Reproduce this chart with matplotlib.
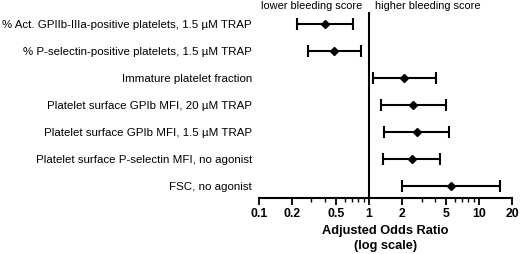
import numpy as np
import matplotlib
matplotlib.use("Agg")
import matplotlib.pyplot as plt
from matplotlib.ticker import FixedLocator, NullFormatter

labels = [
    "% Act. GPIIb-IIIa-positive platelets, 1.5 \u00b5M TRAP",
    "% P-selectin-positive platelets, 1.5 \u00b5M TRAP",
    "Immature platelet fraction",
    "Platelet surface GPIb MFI, 20 \u00b5M TRAP",
    "Platelet surface GPIb MFI, 1.5 \u00b5M TRAP",
    "Platelet surface P-selectin MFI, no agonist",
    "FSC, no agonist",
]
odds = [0.40, 0.48, 2.08, 2.53, 2.71, 2.44, 5.53]
ci_low = [0.223, 0.28, 1.09, 1.29, 1.38, 1.35, 2.01]
ci_high = [0.71, 0.84, 4.04, 4.98, 5.37, 4.42, 15.4]
xticks = [0.1, 0.2, 0.5, 1, 2, 5, 10, 20]
xticklabels = ["0.1", "0.2", "0.5", "1", "2", "5", "10", "20"]

plt.rcParams["font.family"] = ["Liberation Sans", "DejaVu Sans"]

fig = plt.figure(figsize=(5.2, 2.54), dpi=100)
ax = fig.add_axes([0.498, 0.2205, 0.487, 0.7325])

y = np.arange(1, len(labels) + 1)
odds = np.array(odds)
err = [odds - np.array(ci_low), np.array(ci_high) - odds]
ax.errorbar(odds, y, xerr=err, fmt="D", color="black", ms=4.5,
            elinewidth=1.5, capsize=4, capthick=1.5)
ax.axvline(1, color="black", lw=1.5)

ax.set_xscale("log")
ax.set_xlim(0.1, 20)
ax.set_ylim(7.45, 0.55)
ax.set_yticks(y)
ax.set_yticklabels(labels, fontsize=8.25)
ax.tick_params(axis="y", length=0, pad=5)

ax.xaxis.set_major_locator(FixedLocator(xticks))
ax.set_xticklabels(xticklabels, fontsize=8.8, fontweight="bold")
ax.xaxis.set_minor_locator(FixedLocator(
    [0.3, 0.4, 0.6, 0.7, 0.8, 0.9, 3, 4, 6, 7, 8, 9]))
ax.xaxis.set_minor_formatter(NullFormatter())
ax.tick_params(axis="x", which="major", length=5, width=1.3, pad=2)
ax.tick_params(axis="x", which="minor", length=3, width=1)

for s in ["top", "right", "left"]:
    ax.spines[s].set_visible(False)
ax.spines["bottom"].set_linewidth(1.5)

ax.set_xlabel("Adjusted Odds Ratio\n(log scale)", fontsize=9.2,
              fontweight="bold", labelpad=4, linespacing=1.35)

ax.text(0.86, 1.005, "lower bleeding score", transform=ax.get_xaxis_transform(),
        ha="right", va="bottom", fontsize=7.95)
ax.text(1.13, 1.005, "higher bleeding score", transform=ax.get_xaxis_transform(),
        ha="left", va="bottom", fontsize=7.95)

fig.savefig("out.png", dpi=100)
